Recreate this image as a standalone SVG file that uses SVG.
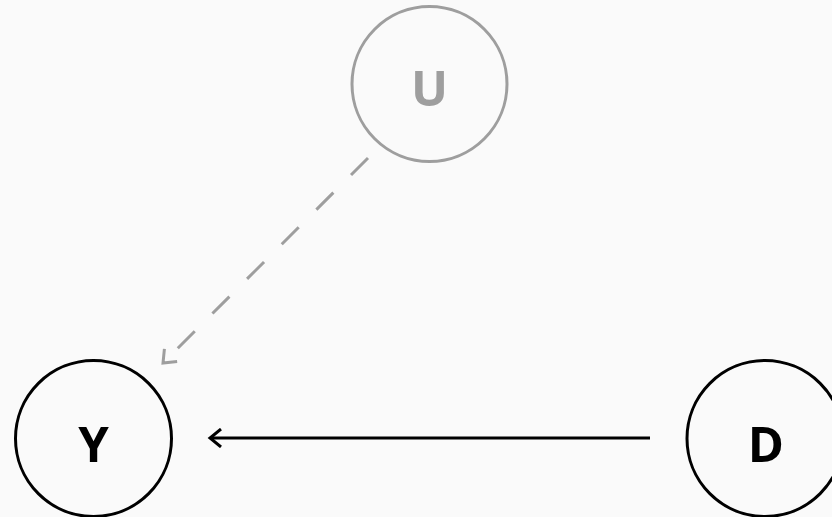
<svg xmlns="http://www.w3.org/2000/svg" width="832" height="517" viewBox="0 0 832 517">
<style>
.node{fill:none;stroke-width:3}
.lbl{font-family:"Open Sans","Noto Sans",sans-serif;font-weight:700;font-size:49px;text-anchor:middle}
.dark{stroke:#000}
.light{stroke:#9e9e9e}
</style>
<defs>
<marker id="ah-dark" viewBox="-14 -10 18 20" markerWidth="18" markerHeight="20" refX="0" refY="0" orient="auto" markerUnits="userSpaceOnUse">
<path d="M-11,-9 L0,0 L-11,9" fill="none" stroke="#000" stroke-width="3"/>
</marker>
<marker id="ah-light" viewBox="-14 -10 18 20" markerWidth="18" markerHeight="20" refX="0" refY="0" orient="auto" markerUnits="userSpaceOnUse">
<path d="M-11,-9 L0,0 L-11,9" fill="none" stroke="#9e9e9e" stroke-width="3"/>
</marker>
</defs>
<rect width="832" height="517" fill="#fafafa"/>
<g id="connectors">
<line x1="368" y1="158" x2="163" y2="363" stroke="#9e9e9e" stroke-width="3" stroke-dasharray="24,25" marker-end="url(#ah-light)"/>
<line x1="650" y1="438" x2="210" y2="438" stroke="#000" stroke-width="3" marker-end="url(#ah-dark)"/>
</g>
<g id="node-U">
<circle class="node light" cx="429.5" cy="84" r="77.5"/>
<text class="lbl" x="429.5" y="106" fill="#9e9e9e">U</text>
</g>
<g id="node-Y">
<circle class="node dark" cx="93.5" cy="438.5" r="78"/>
<text class="lbl" x="93.5" y="462" fill="#000">Y</text>
</g>
<g id="node-D">
<circle class="node dark" cx="765" cy="438.5" r="78"/>
<text class="lbl" x="766" y="462" fill="#000">D</text>
</g>
</svg>
